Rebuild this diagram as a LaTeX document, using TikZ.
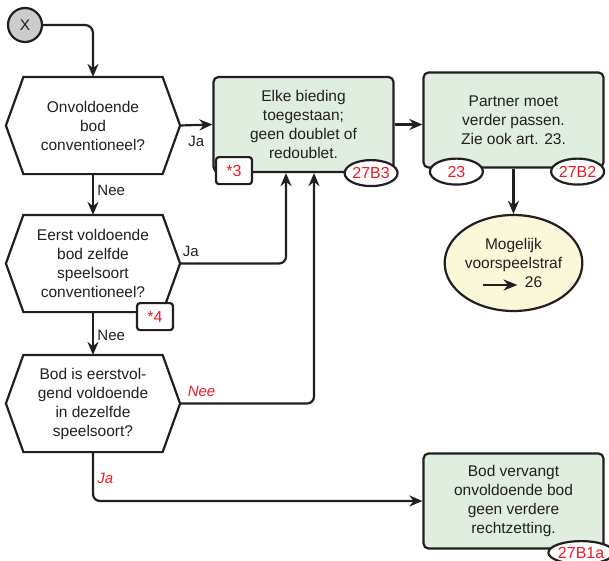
\documentclass[tikz,border=0pt]{standalone}
\usepackage{fontspec}
\setmainfont{Liberation Sans}
\usetikzlibrary{arrows.meta, shapes.geometric}

\definecolor{boxgreen}{RGB}{223,238,222}
\definecolor{boxyellow}{RGB}{251,248,218}
\definecolor{startgray}{RGB}{204,204,204}
\definecolor{refred}{RGB}{237,28,36}
\definecolor{textgray}{RGB}{35,31,32}

% outline of a decision node: flat top and bottom, pointed sides
\newcommand{\hexframe}[1]{\draw ([xshift=0pt]#1.west) -- ([xshift=17.5pt]#1.north west)
  -- ([xshift=-17.5pt]#1.north east) -- (#1.east) -- ([xshift=-17.5pt]#1.south east)
  -- ([xshift=17.5pt]#1.south west) -- cycle;}

\begin{document}
\begin{tikzpicture}[x = 1pt, y = -1pt, % pixel units, y going down
                > = {Stealth[length=13pt, width=11pt]}, % arrow head style
                node distance = 138pt, % distance between nodes
                line width = 2.2pt, color = textgray, % line style
                font = \fontsize{15.5}{19}\selectfont
            ]

            \tikzstyle{startnode}=[draw, circle, fill = startgray,
            minimum size = 34pt, inner sep = 0pt]
            \tikzstyle{decision}=[minimum width = 172pt, minimum height = 95pt,
            inner sep = 0pt, align = center]
            \tikzstyle{action}=[draw, rounded corners = 5pt, fill = boxgreen,
            minimum width = 180pt, minimum height = 95pt, align = center]
            \tikzstyle{result}=[draw, ellipse, fill = boxyellow, inner sep = 0pt,
            minimum width = 136pt, minimum height = 96pt, align = center]
            \tikzstyle{ref}=[draw, ellipse, fill = white, text = refred,
            minimum width = 53pt, minimum height = 26pt, inner sep = 0pt,
            font = \fontsize{16}{19}\selectfont]
            \tikzstyle{note}=[draw, rounded corners = 3pt, fill = white,
            text = refred, minimum width = 36pt, minimum height = 27pt,
            inner sep = 0pt, font = \fontsize{16}{19}\selectfont]
            \tikzstyle{lbl}=[font = \fontsize{15}{17}\selectfont]
            \tikzstyle{redlbl}=[text = refred,
            font = \fontsize{15}{17}\selectfont\itshape]

            \useasboundingbox (0,0) rectangle (609,560);

            \node[startnode] (x) at (25,25) {X};
            \node[decision] (q1) at (93,125.5) {Onvoldoende\\bod\\conventioneel?};
            \node[decision] (q2) [below of=q1] {Eerst voldoende\\bod zelfde\\speelsoort\\conventioneel?};
            \node[decision] (q3) [below of=q2, node distance=140pt] {Bod is eerstvol-\\gend voldoende\\in dezelfde\\speelsoort?};
            \hexframe{q1} \hexframe{q2} \hexframe{q3}

            \node[action] (b1) [right of=q1, node distance=210.5pt, yshift=1pt] {Elke bieding\\toegestaan;\\geen doublet of\\redoublet.};
            \node[action] (b2) [right of=b1, node distance=210pt, yshift=4.5pt] {Partner moet\\verder passen.\\Zie ook art. 23.};
            \node[result] (mog) [below of=b2, node distance=143pt] {Mogelijk\\voorspeelstraf\\\hspace*{40pt}26};
            \node[action] (b3) at (513.5,501) {Bod vervangt\\onvoldoende bod\\geen verdere\\rechtzetting.};

            \node[note] (n3) at ([xshift=-69.5pt, yshift=2.5pt]b1.south) {*3};
            \node[note] (n4) at ([xshift=62pt, yshift=-4.5pt]q2.south) {*4};
            \node[ref] (r27B3) at ([xshift=-23.5pt]b1.south east) {27B3};
            \node[ref] (r23) at ([xshift=34pt, yshift=-3pt]b2.south west) {23};
            \node[ref] (r27B2) at ([xshift=-27pt, yshift=-3pt]b2.south east) {27B2};
            \node[ref, minimum width=57pt, minimum height=23pt] (r27B1a) at ([xshift=-23.5pt, yshift=-3pt]b3.south east) {27B1a};

            \coordinate (arw) at ([xshift=-31pt, yshift=-22pt]mog.center);
            \draw[-{Stealth[length=14pt, width=11pt]}, line width=2.8pt] (arw) -- ++(35,0);

            \draw[->, rounded corners=8pt] (x.east) -| (q1.north);
            \path[->] (q1.east) edge node[lbl, below=7pt] {Ja} (b1.west);
            \path[->] (q1.south) edge node[lbl, right, pos=0.4] {Nee} (q2.north);
            \path[->] (q2.south) edge node[lbl, right, pos=0.55] {Nee} (q3.north);
            \path[->] (b1.east) edge (b1.east -| b2.west);
            \path[->] (b2.south) edge (mog.north);
            \draw[->, rounded corners=7pt] (q2.east) -| node[lbl, above=2pt, pos=0.05] {Ja} ([xshift=-17.5pt]b1.south);
            \draw[->, rounded corners=7pt] (q3.east) -| node[redlbl, above=2pt, pos=0.08] {Nee} ([xshift=10.5pt]b1.south);
            \draw[->, rounded corners=7pt] (q3.south) |- node[redlbl, right, pos=0.27] {Ja} (b3.west);
\end{tikzpicture}
\end{document}
